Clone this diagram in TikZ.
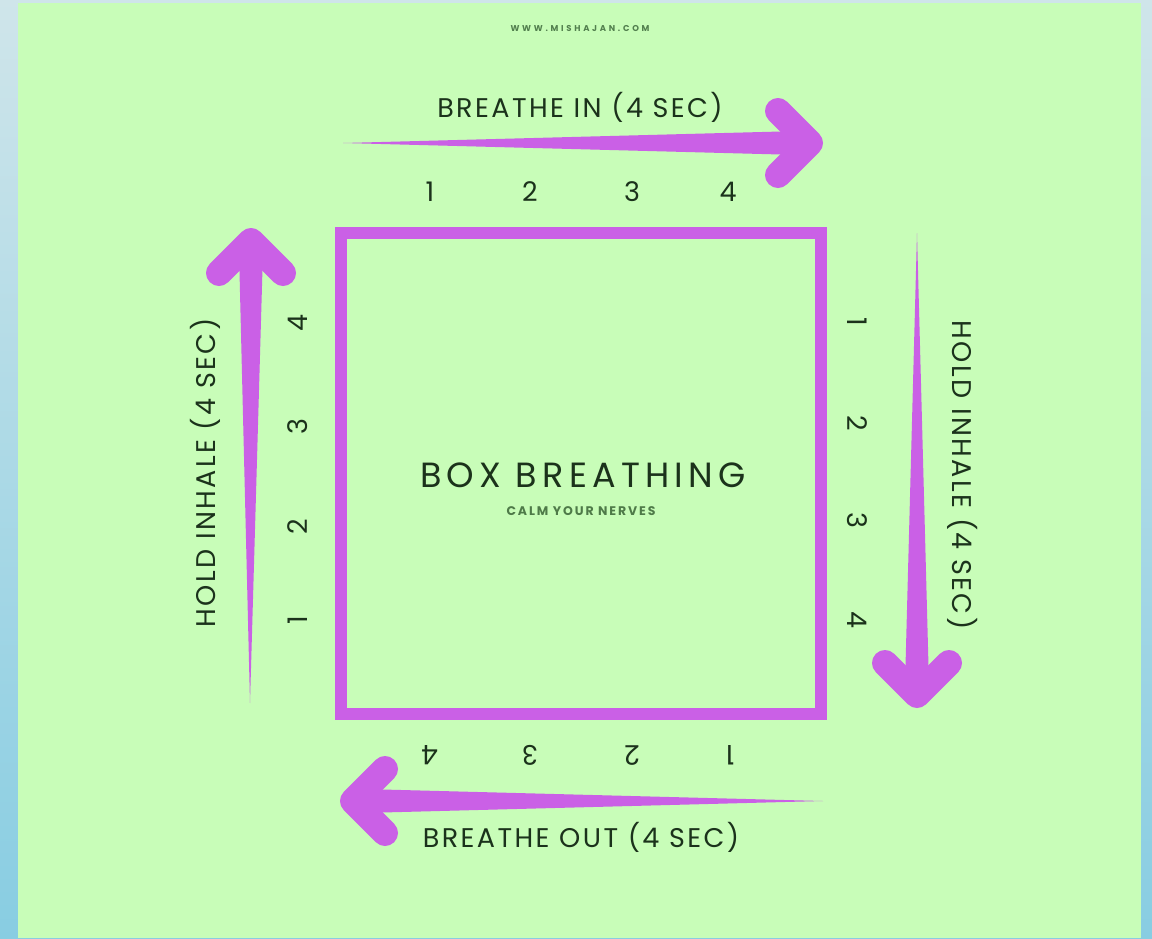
\documentclass[tikz,border=0pt]{standalone}
\usepackage{fontspec}
\setmainfont{Poppins}
\definecolor{bgtop}{HTML}{CFE5EA}
\definecolor{bgbot}{HTML}{88CDE2}
\definecolor{panel}{HTML}{C8FDB8}
\definecolor{pur}{HTML}{CA60E6}
\definecolor{ink}{HTML}{1B321B}
\definecolor{subink}{HTML}{4E7A48}
\definecolor{urlink}{HTML}{527F4E}
\begin{document}
\begin{tikzpicture}[x=1pt,y=-1pt,
  arm/.style={draw=pur, line width=26pt, line cap=round, line join=round},
  shaft/.style={fill=pur},
  lbl/.style={text=ink, font=\fontsize{27}{30}\selectfont\addfontfeatures{LetterSpace=9}, inner sep=0pt, anchor=base},
  num/.style={text=ink, font=\fontsize{27}{30}\selectfont, inner sep=0pt},
]
\useasboundingbox (0,0) rectangle (1152,938);
\shade[top color=bgtop, bottom color=bgbot] (0,0) rectangle (1152,938);
\fill[panel] (18,3) rectangle (1141,938);

% central box
\node[draw=pur, line width=12pt, minimum width=480pt, minimum height=481pt, inner sep=0pt] (box) at (581,473.5) {};

% top arrow (breathe in)
\coordinate (tTail) at (343,143);
\coordinate (tTip) at (810,143);
\coordinate (tA) at (778,111);
\coordinate (tB) at (778,175);
\fill[shaft] (tTail) -- (800,131) -- (800,155) -- cycle;
\draw[arm] (tA) -- (tTip) -- (tB);

% right arrow (hold)
\coordinate (rTail) at (917,233);
\coordinate (rTip) at (917,695);
\coordinate (rA) at (885,663);
\coordinate (rB) at (949,663);
\fill[shaft] (rTail) -- (905,685) -- (929,685) -- cycle;
\draw[arm] (rA) -- (rTip) -- (rB);

% bottom arrow (breathe out)
\coordinate (bTail) at (823,801);
\coordinate (bTip) at (353,801);
\coordinate (bA) at (385,769);
\coordinate (bB) at (385,833);
\fill[shaft] (bTail) -- (363,789) -- (363,813) -- cycle;
\draw[arm] (bA) -- (bTip) -- (bB);

% left arrow (hold)
\coordinate (lTail) at (250,703);
\coordinate (lTip) at (251,241);
\coordinate (lA) at (219,273);
\coordinate (lB) at (283,273);
\fill[shaft] (lTail) -- (239,251) -- (263,251) -- cycle;
\draw[arm] (lA) -- (lTip) -- (lB);

% texts
\node[text=urlink, font=\fontsize{8.5}{10}\selectfont\bfseries\addfontfeatures{LetterSpace=32}, inner sep=0pt, anchor=base] (url) at (580,31) {WWW.MISHAJAN.COM};
\node[text=ink, font=\fontsize{35}{40}\selectfont\addfontfeatures{LetterSpace=15}, inner sep=0pt, anchor=base] (title) at (583,487) {BOX BREATHING};
\node[text=subink, font=\fontsize{12.5}{14}\selectfont\bfseries\addfontfeatures{LetterSpace=15}, inner sep=0pt, anchor=base] (sub) at (581,515) {CALM YOUR NERVES};

\node[lbl] (lin) at (580,117) {BREATHE IN (4 SEC)};
\node[lbl] (lout) at (581,847) {BREATHE OUT (4 SEC)};
\node[lbl, rotate=90] (lleft) at (215,473) {HOLD INHALE (4 SEC)};
\node[lbl, rotate=-90] (lright) at (952,475) {HOLD INHALE (4 SEC)};

% numbers top
\node[num] (t1) at (430,192) {1};
\node[num] (t2) at (530,192) {2};
\node[num] (t3) at (632,192) {3};
\node[num] (t4) at (728,192) {4};
% numbers right
\node[num, rotate=-90] (r1) at (857,322) {1};
\node[num, rotate=-90] (r2) at (857,423) {2};
\node[num, rotate=-90] (r3) at (857,520) {3};
\node[num, rotate=-90] (r4) at (857,620) {4};
% numbers bottom
\node[num, rotate=180] (b1) at (730,755) {1};
\node[num, rotate=180] (b2) at (632,755) {2};
\node[num, rotate=180] (b3) at (530,755) {3};
\node[num, rotate=180] (b4) at (430,755) {4};
% numbers left
\node[num, rotate=90] (l1) at (298,620) {1};
\node[num, rotate=90] (l2) at (298,527) {2};
\node[num, rotate=90] (l3) at (298,427) {3};
\node[num, rotate=90] (l4) at (298,323) {4};
\end{tikzpicture}
\end{document}
